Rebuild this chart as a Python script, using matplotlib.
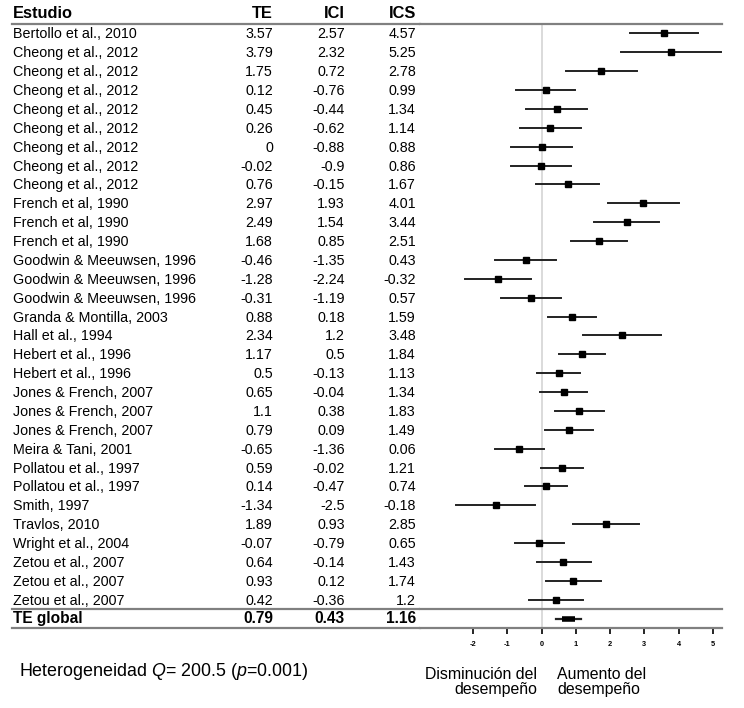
import matplotlib
matplotlib.use('Agg')
import matplotlib.pyplot as plt

plt.rcParams['font.family'] = ['Liberation Sans', 'DejaVu Sans']
plt.rcParams['mathtext.fontset'] = 'custom'
plt.rcParams['mathtext.rm'] = 'Liberation Sans'
plt.rcParams['mathtext.it'] = 'Liberation Sans:italic'

# datos del forest plot
estudios = ['Bertollo et al., 2010', 'Cheong et al., 2012', 'Cheong et al., 2012',
            'Cheong et al., 2012', 'Cheong et al., 2012', 'Cheong et al., 2012',
            'Cheong et al., 2012', 'Cheong et al., 2012', 'Cheong et al., 2012',
            'French et al, 1990', 'French et al, 1990', 'French et al, 1990',
            'Goodwin & Meeuwsen, 1996', 'Goodwin & Meeuwsen, 1996', 'Goodwin & Meeuwsen, 1996',
            'Granda & Montilla, 2003', 'Hall et al., 1994', 'Hebert et al., 1996',
            'Hebert et al., 1996', 'Jones & French, 2007', 'Jones & French, 2007',
            'Jones & French, 2007', 'Meira & Tani, 2001', 'Pollatou et al., 1997',
            'Pollatou et al., 1997', 'Smith, 1997', 'Travlos, 2010',
            'Wright et al., 2004', 'Zetou et al., 2007', 'Zetou et al., 2007',
            'Zetou et al., 2007']
te = [3.57, 3.79, 1.75, 0.12, 0.45, 0.26, 0, -0.02, 0.76, 2.97, 2.49, 1.68,
      -0.46, -1.28, -0.31, 0.88, 2.34, 1.17, 0.5, 0.65, 1.1, 0.79, -0.65,
      0.59, 0.14, -1.34, 1.89, -0.07, 0.64, 0.93, 0.42]
ici = [2.57, 2.32, 0.72, -0.76, -0.44, -0.62, -0.88, -0.9, -0.15, 1.93, 1.54, 0.85,
       -1.35, -2.24, -1.19, 0.18, 1.2, 0.5, -0.13, -0.04, 0.38, 0.09, -1.36,
       -0.02, -0.47, -2.5, 0.93, -0.79, -0.14, 0.12, -0.36]
ics = [4.57, 5.25, 2.78, 0.99, 1.34, 1.14, 0.88, 0.86, 1.67, 4.01, 3.44, 2.51,
       0.43, -0.32, 0.57, 1.59, 3.48, 1.84, 1.13, 1.34, 1.83, 1.49, 0.06,
       1.21, 0.74, -0.18, 2.85, 0.65, 1.43, 1.74, 1.2]
te_global, ici_global, ics_global = 0.79, 0.43, 1.16
ticks = [-2, -1, 0, 1, 2, 3, 4, 5]

W, H = 744, 708
fig = plt.figure(figsize=(W / 100, H / 100), dpi=100)
n = len(estudios)
bot = (H - 628) / H
alt = 604 / H
gris = '#808080'

# tabla a la izquierda
axt = fig.add_axes([12 / W, bot, 408 / W, alt])
axt.set_xlim(0, 408)
axt.set_ylim(n + 0.5, -0.5)
axt.axis('off')
# grafico a la derecha
axf = fig.add_axes([420 / W, bot, 302 / W, alt])
axf.set_xlim(-3.55, 5.27)
axf.set_ylim(n + 0.5, -0.5)

for a in (axt, axf):
    a.axhline(-0.5, color=gris, lw=1.6, clip_on=False)
    a.axhline(n - 0.5, color=gris, lw=1.6, clip_on=False)
    a.axhline(n + 0.5, color=gris, lw=1.6, clip_on=False)

cols = [261, 333, 404]
fs = 10.3
axt.text(1, -1.05, 'Estudio', fontsize=11.8, fontweight='bold', va='center')
for x, t in zip(cols, ['TE', 'ICI', 'ICS']):
    axt.text(x, -1.05, t, fontsize=11.8, fontweight='bold', ha='right', va='center')
for i in range(n):
    axt.text(1, i + 0.05, estudios[i], fontsize=fs, va='center')
    for x, v in zip(cols, [te[i], ici[i], ics[i]]):
        axt.text(x, i + 0.05, f'{v:g}', fontsize=fs, ha='right', va='center')
axt.text(1, n, 'TE global', fontsize=11.2, fontweight='bold', va='center')
for x, v in zip(cols, [te_global, ici_global, ics_global]):
    axt.text(x, n, f'{v:g}', fontsize=11.2, fontweight='bold', ha='right', va='center')

# forest
axf.axvline(0, color='#d8d8d8', lw=1.3, zorder=0)
for i in range(n):
    axf.plot([ici[i], ics[i]], [i, i], color='#222222', lw=1.4)
    axf.plot(te[i], i, marker='s', color='black', ms=4.3)
axf.plot([ici_global, ics_global], [n, n], color='#222222', lw=1.6)
axf.plot([te_global - 0.2, te_global + 0.18], [n, n], color='black', lw=4,
         solid_capstyle='butt')

for s in ['top', 'right', 'left', 'bottom']:
    axf.spines[s].set_visible(False)
axf.set_yticks([])
axf.set_xticks(ticks)
axf.set_xticklabels([str(t) for t in ticks], fontsize=5.3, fontweight='bold')
axf.tick_params(axis='x', length=4, width=1.2, pad=5, direction='out')

fig.text(19 / W, 1 - 671 / H, 'Heterogeneidad $\\mathit{Q}$= 200.5 ($\\mathit{p}$=0.001)',
         fontsize=12.9, va='center')
fig.text(537 / W, 1 - 682 / H, 'Disminución del\ndesempeño', fontsize=11.4,
         ha='right', va='center', multialignment='right', linespacing=1.0)
fig.text(557 / W, 1 - 682 / H, 'Aumento del\ndesempeño', fontsize=11.4,
         ha='left', va='center', multialignment='left', linespacing=1.0)

fig.savefig('out.png', dpi=100)
